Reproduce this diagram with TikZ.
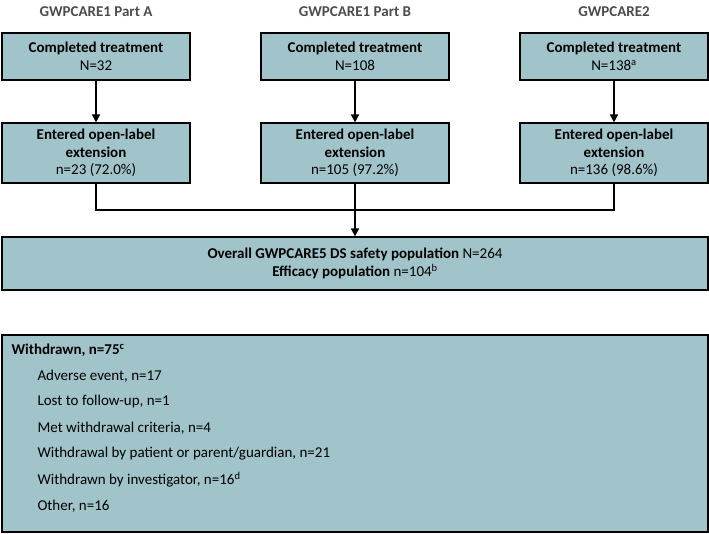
\documentclass[tikz,border=0pt]{standalone}
\usepackage{fontspec}
\setmainfont{Carlito}
\usetikzlibrary{arrows.meta}
\definecolor{boxc}{HTML}{A0C4C9}
\begin{document}
\begin{tikzpicture}[x=1pt,y=-1pt,
 bx/.style={draw=black,line width=1.2pt,fill=boxc,inner sep=0pt,align=center,font=\fontsize{15}{17.5}\selectfont},
 hd/.style={font=\bfseries\fontsize{15}{18}\selectfont,text=black!70},
 arr/.style={line width=1.6pt,-{Triangle[length=8pt,width=8pt]}}]
\useasboundingbox (0,0) rectangle (709,534);
\foreach \n/\c/\t/\N/\e in {a/96/GWPCARE1 Part A/N=32/n=23 (72.0\%),b/355/GWPCARE1 Part B/N=108/n=105 (97.2\%),c/614/GWPCARE2/N=138\textsuperscript{a}/n=136 (98.6\%)}{
 \node[hd] (h\n) at (\c,12) {\t};
 \node[bx,minimum width=188pt,minimum height=47pt] (t\n) at (\c,56.5) {\textbf{Completed treatment}\\\N};
 \node[bx,minimum width=188pt,minimum height=60pt] (e\n) at (\c,153) {\textbf{Entered open-label}\\\textbf{extension}\\\e};
 \draw[arr] (t\n) -- (e\n);
}
\node[bx,minimum width=706pt,minimum height=53pt] (o) at (355,263.5) {\textbf{Overall GWPCARE5 DS safety population} N=264\\\textbf{Efficacy population} n=104\textsuperscript{b}};
\coordinate (m) at (355,210);
\draw[line width=1.6pt] (ea.south) |- (m) -| (ec.south);
\draw[arr] (eb.south) -- (o.north);
\node[bx,minimum width=706pt,minimum height=197pt] (w) at (355,433.5) {};
\begin{scope}[every node/.style={anchor=west,font=\fontsize{15}{18}\selectfont}]
\node (w0) at (8,350) {\textbf{Withdrawn, n=75\textsuperscript{c}}};
\node (w1) at (34,376) {Adverse event, n=17};
\node (w2) at (34,402) {Lost to follow-up, n=1};
\node (w3) at (34,428) {Met withdrawal criteria, n=4};
\node (w4) at (34,454) {Withdrawal by patient or parent/guardian, n=21};
\node (w5) at (34,480) {Withdrawn by investigator, n=16\textsuperscript{d}};
\node (w6) at (34,506) {Other, n=16};
\end{scope}
\end{tikzpicture}
\end{document}
